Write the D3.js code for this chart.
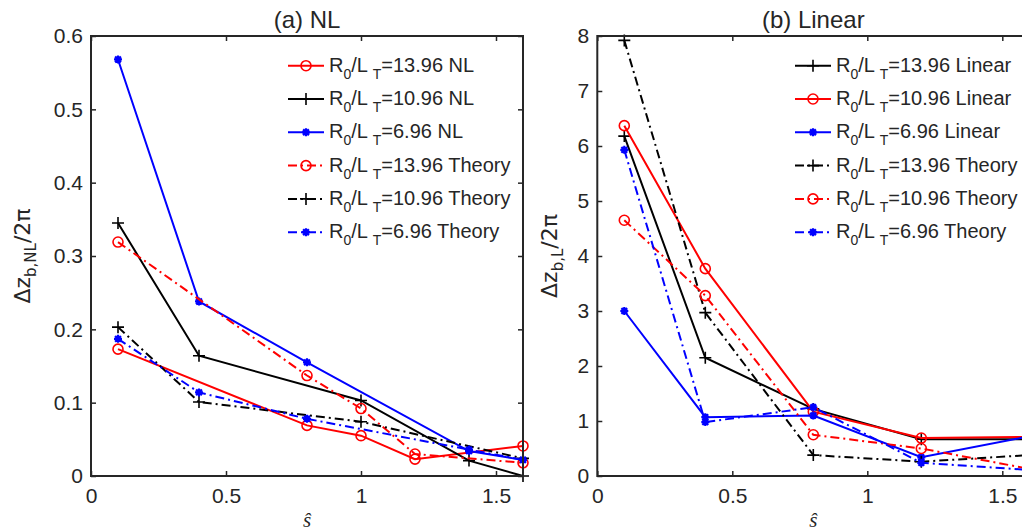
<!DOCTYPE html>
<html>
<head>
<meta charset="utf-8">
<script src="https://cdn.jsdelivr.net/npm/d3@7"></script>
<style>
  body { margin: 0; background: #fff; }
  text { font-family: "Liberation Sans", Arial, Helvetica, sans-serif; fill: #262626; }
</style>
</head>
<body>
<div id="viz"></div>
<script>
// ---- panel (a): nonlinear runs and theory ----
const sNLRed = [0.1, 0.8, 1.0, 1.2, 1.6];
const nlRed = [0.173, 0.069, 0.055, 0.023, 0.041];
const sNLBlack = [0.1, 0.4, 1.0, 1.4, 1.6];
const nlBlack = [0.345, 0.164, 0.103, 0.021, 0.0];
const sNLBlue = [0.1, 0.4, 0.8, 1.4, 1.6];
const nlBlue = [0.568, 0.238, 0.155, 0.034, 0.022];
const sThRed = [0.1, 0.8, 1.0, 1.2, 1.6];
const thRed = [0.319, 0.137, 0.092, 0.030, 0.018];
const sThBlack = [0.1, 0.4, 1.0, 1.6];
const thBlack = [0.203, 0.101, 0.074, 0.024];
const sThBlue = [0.1, 0.4, 0.8, 1.4, 1.6];
const thBlue = [0.187, 0.114, 0.078, 0.036, 0.022];

// ---- panel (b): linear runs and theory ----
const sLin = [0.1, 0.4, 0.8, 1.2, 1.6];
const linBlack = [6.18, 2.15, 1.22, 0.67, 0.67];
const linRed = [6.37, 3.77, 1.17, 0.69, 0.71];
const linBlue = [3.0, 1.07, 1.10, 0.34, 0.72];
const thLinBlack = [7.92, 2.97, 0.38, 0.26, 0.38];
const thLinRed = [4.65, 3.28, 0.75, 0.50, 0.13];
const thLinBlue = [5.93, 0.98, 1.25, 0.24, 0.11];

const xTicks = [0, 0.5, 1, 1.5];
const yTicksNL = [0, 0.1, 0.2, 0.3, 0.4, 0.5, 0.6];
const yTicksLin = [0, 1, 2, 3, 4, 5, 6, 7, 8];

const RED = "#ff0000", BLACK = "#000000", BLUE = "#0000ff";
const DASHDOT = "9,4,2,4";

const W = 1022, H = 532;
const svg = d3.select("#viz").append("svg")
    .attr("width", W).attr("height", H);
svg.append("rect").attr("width", W).attr("height", H).attr("fill", "#fff");

function drawMarker(g, type, cx, cy, color) {
    if (type === "o") {
        g.append("circle").attr("cx", cx).attr("cy", cy).attr("r", 5)
            .attr("fill", "none").attr("stroke", color).attr("stroke-width", 1.6);
    } else if (type === "+") {
        g.append("path")
            .attr("d", `M${cx - 6},${cy}H${cx + 6}M${cx},${cy - 6}V${cy + 6}`)
            .attr("stroke", color).attr("stroke-width", 1.6);
    } else {
        const a = 4, b = 2.9;
        g.append("path")
            .attr("d", `M${cx - a},${cy}H${cx + a}M${cx},${cy - a}V${cy + a}` +
                `M${cx - b},${cy - b}L${cx + b},${cy + b}M${cx - b},${cy + b}L${cx + b},${cy - b}`)
            .attr("stroke", color).attr("stroke-width", 2.2);
    }
}

function drawPanel(p) {
    const x = d3.scaleLinear().domain([0, 1.6]).range([p.left, p.left + 432]);
    const y = d3.scaleLinear().domain(p.yDomain).range([476, 36]);
    const g = svg.append("g");

    // series
    const line = d3.line().x(d => x(d[0])).y(d => y(d[1]));
    p.series.forEach(function(s) {
        const pts = s.xs.map((v, i) => [v, s.ys[i]]);
        g.append("path").datum(pts)
            .attr("d", line)
            .attr("fill", "none")
            .attr("stroke", s.color)
            .attr("stroke-width", 2)
            .attr("stroke-dasharray", s.dash ? DASHDOT : null);
        pts.forEach(d => drawMarker(g, s.marker, x(d[0]), y(d[1]), s.color));
    });

    // axes box with inward ticks
    const axisColor = "#262626";
    g.append("g").attr("transform", "translate(0,476)")
        .call(d3.axisBottom(x).tickValues(xTicks).tickSizeInner(-5).tickSizeOuter(0)
            .tickPadding(12).tickFormat(d3.format("")));
    g.append("g").attr("transform", "translate(0,36)")
        .call(d3.axisTop(x).tickValues(xTicks).tickSizeInner(-5).tickSizeOuter(0).tickFormat(""));
    g.append("g").attr("transform", `translate(${p.left},0)`)
        .call(d3.axisLeft(y).tickValues(p.yTicks).tickSizeInner(-5).tickSizeOuter(0)
            .tickPadding(8).tickFormat(d3.format("")));
    g.append("g").attr("transform", `translate(${p.left + 432},0)`)
        .call(d3.axisRight(y).tickValues(p.yTicks).tickSizeInner(-5).tickSizeOuter(0).tickFormat(""));
    g.selectAll(".domain").remove();
    g.selectAll(".tick line").attr("stroke", axisColor).attr("stroke-width", 1.5);
    g.selectAll(".tick text").attr("font-size", 21).attr("fill", axisColor)
        .style("font-family", "'Liberation Sans', Arial, sans-serif");
    g.append("rect")
        .attr("x", p.left).attr("y", 36).attr("width", 432).attr("height", 440)
        .attr("fill", "none").attr("stroke", axisColor).attr("stroke-width", 2);

    // title
    g.append("text").attr("x", p.left + 216).attr("y", 28)
        .attr("text-anchor", "middle").attr("font-size", 24).text(p.title);

    // x label
    g.append("text").attr("x", p.left + 216).attr("y", 527)
        .attr("text-anchor", "middle").attr("font-size", 21)
        .style("font-family", "'Liberation Serif', serif").style("font-style", "italic")
        .text("\u015D");

    // y label
    const yl = g.append("text")
        .attr("transform", `translate(${p.ylabelX},256) rotate(-90)`)
        .attr("text-anchor", "middle").attr("font-size", 22)
        .style("font-family", "'DejaVu Sans', sans-serif");
    yl.append("tspan").text("\u0394z");
    yl.append("tspan").attr("font-size", 15).attr("dy", 6).text(p.ysub);
    yl.append("tspan").attr("dy", -6).text("/2\u03C0");

    // legend
    p.series.forEach(function(s, i) {
        const ly = 65.7 + i * 33.3;
        g.append("line")
            .attr("x1", p.legX).attr("x2", p.legX + 36)
            .attr("y1", ly).attr("y2", ly)
            .attr("stroke", s.color).attr("stroke-width", 2)
            .attr("stroke-dasharray", s.dash ? DASHDOT : null);
        drawMarker(g, s.marker, p.legX + 18, ly, s.color);
        const t = g.append("text").attr("x", p.legX + 41).attr("y", ly + 6)
            .attr("font-size", 20).attr("fill", "#000");
        t.append("tspan").text("R");
        t.append("tspan").attr("font-size", 14).attr("dy", 7).text("0");
        t.append("tspan").attr("dy", -7).text("/L ");
        t.append("tspan").attr("font-size", 14).attr("dy", 7).text("T");
        t.append("tspan").attr("dy", -7).text(s.label);
    });
}

drawPanel({
    left: 91, yDomain: [0, 0.6], yTicks: yTicksNL, title: "(a) NL",
    ylabelX: 30, ysub: "b,NL", legX: 288,
    series: [
        {xs: sNLRed, ys: nlRed, color: RED, marker: "o", dash: false, label: "=13.96 NL"},
        {xs: sNLBlack, ys: nlBlack, color: BLACK, marker: "+", dash: false, label: "=10.96 NL"},
        {xs: sNLBlue, ys: nlBlue, color: BLUE, marker: "*", dash: false, label: "=6.96 NL"},
        {xs: sThRed, ys: thRed, color: RED, marker: "o", dash: true, label: "=13.96 Theory"},
        {xs: sThBlack, ys: thBlack, color: BLACK, marker: "+", dash: true, label: "=10.96 Theory"},
        {xs: sThBlue, ys: thBlue, color: BLUE, marker: "*", dash: true, label: "=6.96 Theory"}
    ]
});

drawPanel({
    left: 597.3, yDomain: [0, 8], yTicks: yTicksLin, title: "(b) Linear",
    ylabelX: 557, ysub: "b,L", legX: 795,
    series: [
        {xs: sLin, ys: linBlack, color: BLACK, marker: "+", dash: false, label: "=13.96 Linear"},
        {xs: sLin, ys: linRed, color: RED, marker: "o", dash: false, label: "=10.96 Linear"},
        {xs: sLin, ys: linBlue, color: BLUE, marker: "*", dash: false, label: "=6.96 Linear"},
        {xs: sLin, ys: thLinBlack, color: BLACK, marker: "+", dash: true, label: "=13.96 Theory"},
        {xs: sLin, ys: thLinRed, color: RED, marker: "o", dash: true, label: "=10.96 Theory"},
        {xs: sLin, ys: thLinBlue, color: BLUE, marker: "*", dash: true, label: "=6.96 Theory"}
    ]
});
</script>
</body>
</html>
